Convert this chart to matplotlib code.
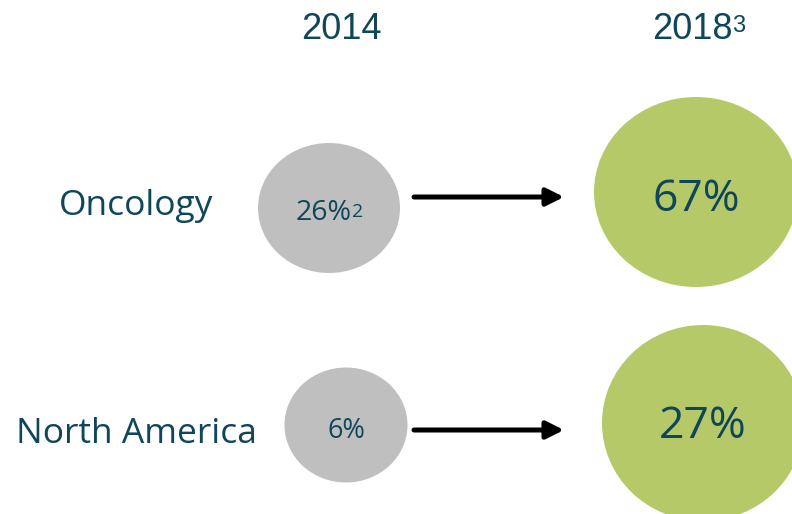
import matplotlib
matplotlib.use("Agg")
import matplotlib.pyplot as plt
from matplotlib.patches import Ellipse

# ---- data ----
categories = ["Oncology", "North America"]
years = ["2014", "2018"]
year_notes = ["", "3"]
share_2014 = [26, 6]
share_2014_notes = ["2", ""]
share_2018 = [67, 27]

# ---- layout (pixel coordinates) ----
W, H = 792, 514
label_baseline = [215, 443]
row_y_arrow = [197, 430]
grey_c = [(329, 208), (346, 425)]
grey_wh = [(142, 130), (123, 115)]
grey_baseline = [220, 438]
green_c = [(696, 192), (703, 423)]
green_wh = [(204, 190), (202, 196)]
green_baseline = [211, 438]
year_x = [341, 692]
year_baseline = 39
arrow_x = (414, 564)

TEXT = "#0f4659"
GREY = "#bfbfbf"
GREEN = "#b5c968"
LABEL_FONT = ["Open Sans", "DejaVu Sans"]
YEAR_FONT = ["Liberation Sans", "DejaVu Sans"]

fig = plt.figure(figsize=(W / 100, H / 100), dpi=100)
ax = fig.add_axes([0, 0, 1, 1])
ax.set_xlim(0, W)
ax.set_ylim(H, 0)
ax.axis("off")

# year headers
for x, yr, note in zip(year_x, years, year_notes):
    t = ax.text(x, year_baseline, yr, ha="center", va="baseline", fontsize=26,
                color=TEXT, family=YEAR_FONT)
    if note:
        ax.annotate(note, xy=(1, 1), xycoords=t, xytext=(0, -2),
                    textcoords="offset points", ha="left", va="top",
                    fontsize=17, color=TEXT, family=YEAR_FONT)

for i, cat in enumerate(categories):
    ax.text(136, label_baseline[i], cat, ha="center", va="baseline",
            fontsize=25.5, color=TEXT, family=LABEL_FONT)
    # 2014 circle
    (gx, gy), (gw, gh) = grey_c[i], grey_wh[i]
    ax.add_patch(Ellipse((gx, gy), gw, gh, facecolor=GREY, edgecolor="none"))
    fs = 20.5 if i == 0 else 19.5
    t = ax.text(gx, grey_baseline[i], f"{share_2014[i]}%", ha="center", va="baseline",
                fontsize=fs, color=TEXT, family=LABEL_FONT)
    if share_2014_notes[i]:
        t.set_position((gx - 5, grey_baseline[i]))
        ax.annotate(share_2014_notes[i], xy=(1, 1), xycoords=t, xytext=(0, -3),
                    textcoords="offset points", ha="left", va="top",
                    fontsize=14, color=TEXT, family=LABEL_FONT)
    # 2018 circle
    (cx, cy), (cw, ch) = green_c[i], green_wh[i]
    ax.add_patch(Ellipse((cx, cy), cw, ch, facecolor=GREEN, edgecolor="none"))
    ax.text(cx, green_baseline[i], f"{share_2018[i]}%", ha="center", va="baseline",
            fontsize=32, color=TEXT, family=LABEL_FONT)
    # arrow
    ax.annotate("", xy=(arrow_x[1], row_y_arrow[i]), xytext=(arrow_x[0], row_y_arrow[i]),
                arrowprops=dict(arrowstyle="-|>", lw=3.6, color="black",
                                mutation_scale=26, shrinkA=0, shrinkB=0))

fig.savefig("out.png", dpi=100)
